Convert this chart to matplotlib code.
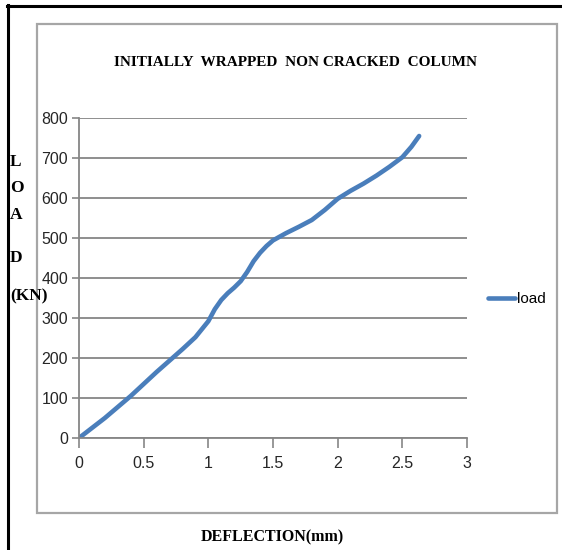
import matplotlib
matplotlib.use("Agg")
import matplotlib.pyplot as plt
from matplotlib.lines import Line2D
from matplotlib.patches import Rectangle

# data
deflection = [0, 0.2, 0.4, 0.6, 0.8, 0.9, 1.0, 1.05, 1.1, 1.15, 1.2, 1.25, 1.3, 1.35,
              1.4, 1.45, 1.5, 1.6, 1.7, 1.8, 1.9, 2.0, 2.1, 2.2, 2.3, 2.4, 2.5, 2.57, 2.63]
load = [0, 50, 105, 165, 222, 252, 292, 322, 345, 362, 376, 392, 415, 442,
        463, 480, 494, 512, 528, 545, 570, 598, 618, 636, 656, 678, 702, 728, 755]
x_ticks = [0, 0.5, 1, 1.5, 2, 2.5, 3]
x_tick_labels = ["0", "0.5", "1", "1.5", "2", "2.5", "3"]
y_ticks = [0, 100, 200, 300, 400, 500, 600, 700, 800]
ylabel_parts = ["L", "O", "A", "D", "(KN)"]

W, H = 562, 550
GRAY = "#868686"
BLUE = "#4A7EBB"
NARROW = ["Liberation Sans Narrow", "Liberation Sans", "DejaVu Sans"]
SERIF = ["Liberation Serif", "DejaVu Serif"]

def fx(px):
    return px / W

def fy(py):
    return 1 - py / H

fig = plt.figure(figsize=(W / 100, H / 100), dpi=100)

# outer black frame (top and left only)
fig.add_artist(Line2D([fx(7), fx(562)], [fy(5.5), fy(5.5)], color="black", lw=2.2))
fig.add_artist(Line2D([fx(8), fx(8)], [fy(5), fy(550)], color="black", lw=2.2))
# chart area box
fig.add_artist(Rectangle((fx(37), fy(513)), fx(556.5) - fx(37), fy(24) - fy(513),
                         fill=False, edgecolor="#A6A6A6", lw=1.6))

ax = fig.add_axes([fx(79), fy(438), fx(467) - fx(79), fy(118) - fy(438)])
ax.plot(deflection, load, color=BLUE, lw=3.3, solid_joinstyle="round",
        solid_capstyle="round", label="load")

ax.set_xlim(0, 3)
ax.set_ylim(0, 800)
ax.set_xticks(x_ticks)
ax.set_xticklabels(x_tick_labels)
ax.set_yticks(y_ticks)
ax.yaxis.grid(True, color=GRAY, lw=1.3)
ax.set_axisbelow(True)
for s in ["top", "right"]:
    ax.spines[s].set_visible(False)
for s in ["left", "bottom"]:
    ax.spines[s].set_color(GRAY)
    ax.spines[s].set_linewidth(1.3)
ax.tick_params(axis="y", length=5, width=1.2, color=GRAY, pad=3)
ax.tick_params(axis="x", length=7, width=1.2, color=GRAY, pad=6)
for lab in ax.get_xticklabels() + ax.get_yticklabels():
    lab.set_family(NARROW)
    lab.set_fontsize(11.5)
    lab.set_color("#262626")

fig.text(fx(296), fy(62), "INITIALLY  WRAPPED  NON CRACKED  COLUMN", ha="center",
         va="center", family=SERIF, fontweight="bold", fontsize=11)

ylabel_y = [162, 188, 215, 258, 296]
for txt, py in zip(ylabel_parts, ylabel_y):
    fig.text(fx(10), fy(py), txt, ha="left", va="center", family=SERIF,
             fontweight="bold", fontsize=12.5)

fig.text(fx(272), fy(529), "DEFLECTION(mm)", ha="center", va="top", family=SERIF,
         fontweight="bold", fontsize=11.5)

leg = ax.legend(loc="center left", bbox_to_anchor=(fx(480), fy(299)),
                bbox_transform=fig.transFigure, frameon=False, handlelength=1.8,
                handletextpad=0.1, borderpad=0, prop={"family": NARROW, "size": 11})

fig.savefig("out.png", dpi=100)
